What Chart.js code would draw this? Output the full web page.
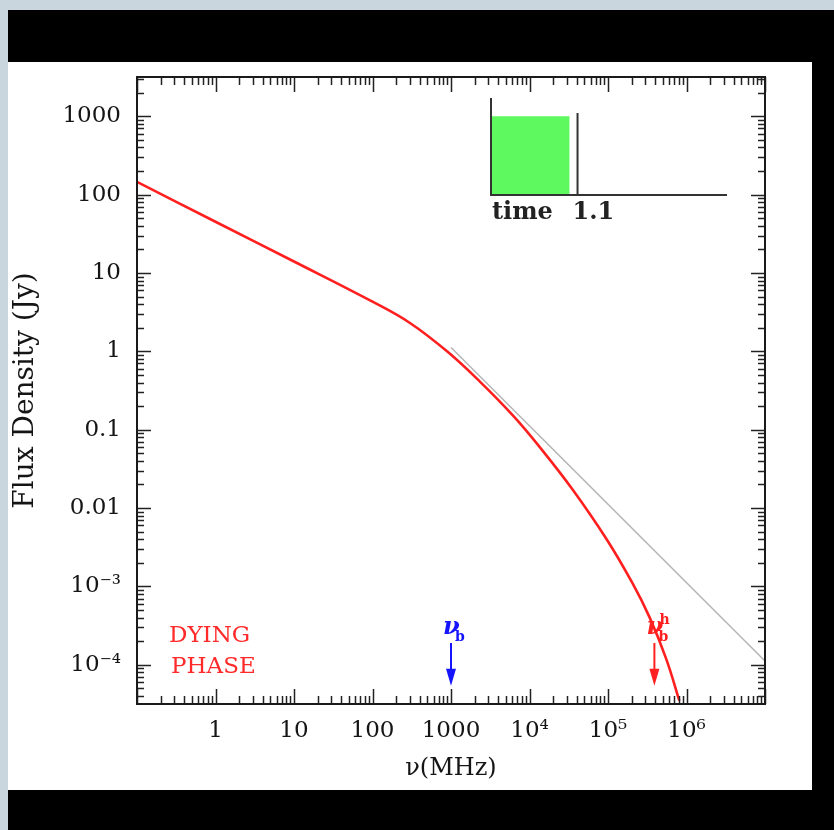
<!DOCTYPE html>
<html lang="en">
<head>
<meta charset="UTF-8">
<title>Dying phase spectrum</title>
<script src="https://cdn.jsdelivr.net/npm/chart.js"></script>
<style>
  html, body { margin: 0; padding: 0; }
  body { width: 834px; height: 830px; background: #c9d6de; position: relative; overflow: hidden; }
  #frame { position: absolute; left: 8px; top: 10px; width: 826px; height: 820px; background: #000; }
  #panel { position: absolute; left: 8px; top: 62px; width: 804px; height: 728px; background: #fff; }
  #main { position: absolute; left: 0; top: 0; }
  #inset { position: absolute; left: 470px; top: 85px; }
</style>
</head>
<body>
<div id="frame"></div>
<div id="panel"></div>
<canvas id="main" width="834" height="830"></canvas>
<canvas id="inset" width="290" height="150"></canvas>

<script>
  // dying-phase spectrum (red)
  const redFreq = [0.1, 1, 10, 100, 300, 890, 2300, 6300, 13500, 35000, 96000, 2.05e5, 3.4e5, 5.5e5, 8.1e5];
  const redFlux = [145, 45, 14, 4.3, 2.3, 1.0, 0.417, 0.148, 0.060, 0.0175, 0.004, 1.1e-3, 4.0e-4, 1.2e-4, 3.5e-5];

  // continuous injection power law (grey)
  const greyFreq = [1000, 1e7];
  const greyFlux = [1.12, 1.12e-4];

  // break frequencies marked with arrows
  const breakFreq = [1000, 3.9e5];
  const breakSup = ['', 'h'];

  // axis ticks
  const xTickValues = [1, 10, 100, 1000, 1e4, 1e5, 1e6];
  const xTickLabels = ['1', '10', '100', '1000', '10⁴', '10⁵', '10⁶'];
  const yTickValues = [1000, 100, 10, 1, 0.1, 0.01, 1e-3, 1e-4];
  const yTickLabels = ['1000', '100', '10', '1', '0.1', '0.01', '10⁻³', '10⁻⁴'];

  // inset: injection history
  const injectionStart = 0;
  const injectionEnd = 1;
  const injectionLevel = 1;
  const currentTime = 1.1;

  const SERIF = 'DejaVu Serif';
  const INK = '#151515';

  function logTicks(min, max) {
    const out = [];
    for (let e = Math.floor(Math.log10(min)); e <= Math.ceil(Math.log10(max)); e++) {
      for (let m = 1; m < 10; m++) {
        const v = m * Math.pow(10, e);
        if (v >= min * 0.999 && v <= max * 1.001) out.push({ value: v });
      }
    }
    return out;
  }

  function labelFor(values, labels, v) {
    const i = values.findIndex(t => Math.abs(t - v) / t < 1e-6);
    return i < 0 ? '' : labels[i];
  }

  function isDecade(v) {
    const l = Math.log10(v);
    return Math.abs(l - Math.round(l)) < 1e-6;
  }

  const extras = {
    id: 'extras',
    afterDatasetsDraw(chart) {
      const { ctx, chartArea: a, scales: { x, y } } = chart;
      ctx.save();

      // inward ticks on all four sides
      ctx.strokeStyle = '#222';
      ctx.lineWidth = 1.5;
      ctx.beginPath();
      x.ticks.forEach(t => {
        const px = Math.round(x.getPixelForValue(t.value)) + 0.5;
        const len = isDecade(t.value) ? 15 : 8;
        ctx.moveTo(px, a.bottom); ctx.lineTo(px, a.bottom - len);
        ctx.moveTo(px, a.top); ctx.lineTo(px, a.top + len);
      });
      y.ticks.forEach(t => {
        const py = Math.round(y.getPixelForValue(t.value)) + 0.5;
        const len = isDecade(t.value) ? 14 : 7;
        ctx.moveTo(a.left, py); ctx.lineTo(a.left + len, py);
        ctx.moveTo(a.right, py); ctx.lineTo(a.right - len, py);
      });
      ctx.stroke();

      // frame
      ctx.strokeStyle = '#1a1a1a';
      ctx.lineWidth = 2;
      ctx.strokeRect(a.left, a.top, a.right - a.left, a.bottom - a.top);

      // break frequency arrows
      const colors = ['#1414ff', '#ff2020'];
      const yTop = y.getPixelForValue(1.9e-4);
      const yBot = y.getPixelForValue(5.4e-5);
      breakFreq.forEach((f, i) => {
        const px = x.getPixelForValue(f);
        ctx.strokeStyle = colors[i];
        ctx.fillStyle = colors[i];
        ctx.lineWidth = 2;
        ctx.beginPath();
        ctx.moveTo(px, yTop);
        ctx.lineTo(px, yBot - 14);
        ctx.stroke();
        ctx.beginPath();
        ctx.moveTo(px - 5, yBot - 17);
        ctx.lineTo(px + 5, yBot - 17);
        ctx.lineTo(px, yBot);
        ctx.closePath();
        ctx.fill();

        ctx.textBaseline = 'alphabetic';
        ctx.textAlign = 'left';
        ctx.font = 'italic bold 24px "' + SERIF + '"';
        ctx.fillText('ν', px - 8, yTop - 9);
        ctx.font = 'bold 14px "' + SERIF + '"';
        ctx.fillText('b', px + 4, yTop - 2);
        if (breakSup[i]) ctx.fillText(breakSup[i], px + 5, yTop - 19);
      });

      // phase label
      ctx.fillStyle = '#ff2a2a';
      ctx.font = '23px "' + SERIF + '"';
      ctx.textAlign = 'left';
      ctx.textBaseline = 'alphabetic';
      ctx.fillText('DYING', a.left + 32, y.getPixelForValue(1.95e-4));
      ctx.fillText('PHASE', a.left + 34, y.getPixelForValue(7.85e-5));
      ctx.restore();
    }
  };

  new Chart(document.getElementById('main'), {
    type: 'line',
    data: {
      datasets: [
        {
          label: 'dying phase',
          data: redFreq.map((f, i) => ({ x: f, y: redFlux[i] })),
          borderColor: '#ff1f1f',
          borderWidth: 2.6,
          pointRadius: 0,
          tension: 0.4,
          fill: false
        },
        {
          label: 'continuous injection',
          data: greyFreq.map((f, i) => ({ x: f, y: greyFlux[i] })),
          borderColor: '#b4b4b4',
          borderWidth: 1.5,
          pointRadius: 0,
          fill: false
        }
      ]
    },
    options: {
      responsive: false,
      animation: false,
      layout: { padding: { top: 77, right: 69, left: 0, bottom: 0 } },
      plugins: { legend: { display: false }, tooltip: { enabled: false } },
      scales: {
        x: {
          type: 'logarithmic',
          min: 0.1,
          max: 1e7,
          afterBuildTicks: s => { s.ticks = logTicks(0.1, 1e7); },
          afterFit: s => { s.height = 126; },
          grid: { display: false, drawTicks: false },
          border: { display: false },
          ticks: {
            autoSkip: false,
            maxRotation: 0,
            padding: 13,
            color: INK,
            font: { family: SERIF, size: 23 },
            callback: v => labelFor(xTickValues, xTickLabels, v)
          },
          title: {
            display: true,
            text: 'ν(MHz)',
            color: INK,
            font: { family: SERIF, size: 24 },
            padding: { top: 0, bottom: 47 }
          }
        },
        y: {
          type: 'logarithmic',
          min: Math.pow(10, -4.5),
          max: Math.pow(10, 3.5),
          afterBuildTicks: s => { s.ticks = logTicks(Math.pow(10, -4.5), Math.pow(10, 3.5)); },
          afterFit: s => { s.width = 137; },
          grid: { display: false, drawTicks: false },
          border: { display: false },
          ticks: {
            autoSkip: false,
            padding: 16,
            color: INK,
            font: { family: SERIF, size: 23 },
            callback: v => labelFor(yTickValues, yTickLabels, v)
          },
          title: {
            display: true,
            text: 'Flux Density (Jy)',
            color: INK,
            font: { family: SERIF, size: 28 },
            padding: { top: 9, bottom: 0 }
          }
        }
      }
    },
    plugins: [extras]
  });

  // inset showing when injection was switched on
  const insetAxes = {
    id: 'insetAxes',
    afterDatasetsDraw(chart) {
      const { ctx, scales: { x, y } } = chart;
      const x0 = x.getPixelForValue(0), y0 = y.getPixelForValue(0);
      ctx.save();
      ctx.strokeStyle = '#333';
      ctx.lineWidth = 2;
      ctx.beginPath();
      ctx.moveTo(x0, y.getPixelForValue(y.max));
      ctx.lineTo(x0, y0);
      ctx.lineTo(x.getPixelForValue(x.max), y0);
      ctx.stroke();
      ctx.fillStyle = '#222';
      ctx.font = 'bold 24px "' + SERIF + '"';
      ctx.textBaseline = 'alphabetic';
      ctx.textAlign = 'left';
      ctx.fillText('time', x0 + 1, y0 + 24);
      ctx.fillText(String(currentTime), x.getPixelForValue(currentTime) - 5, y0 + 24);
      ctx.restore();
    }
  };

  new Chart(document.getElementById('inset'), {
    type: 'line',
    data: {
      datasets: [
        {
          label: 'now',
          data: [{ x: currentTime, y: 0 }, { x: currentTime, y: 1.04 }],
          borderColor: '#333',
          borderWidth: 2,
          pointRadius: 0
        },
        {
          label: 'injection',
          data: [{ x: injectionStart, y: injectionLevel }, { x: injectionEnd, y: injectionLevel }],
          borderWidth: 0,
          borderColor: 'rgba(0,0,0,0)',
          backgroundColor: '#5ef95e',
          fill: 'origin',
          pointRadius: 0
        }
      ]
    },
    options: {
      responsive: false,
      animation: false,
      layout: { padding: { left: 21, top: 13, right: 33, bottom: 40 } },
      plugins: { legend: { display: false }, tooltip: { enabled: false } },
      scales: {
        x: { type: 'linear', min: 0, max: 3, display: false },
        y: { type: 'linear', min: 0, max: 1.23, display: false }
      }
    },
    plugins: [insetAxes]
  });
</script>
</body>
</html>
